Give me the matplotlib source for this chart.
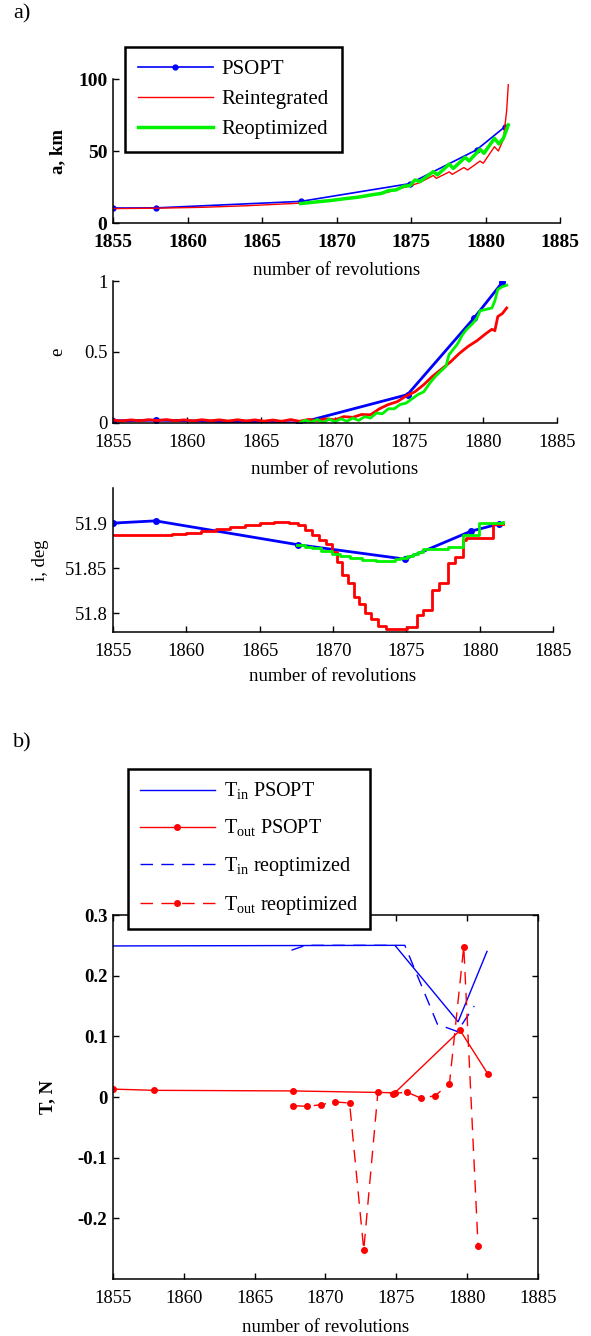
import matplotlib
matplotlib.use('Agg')
import matplotlib.pyplot as plt

plt.rcParams['font.family'] = ['Liberation Serif', 'DejaVu Serif']
plt.rcParams['mathtext.fontset'] = 'custom'
plt.rcParams['mathtext.rm'] = 'Liberation Serif'

# ---------------- datos panel a) ----------------
# semieje mayor, km
psopt_rev = [1855.0, 1857.9, 1867.6, 1874.9, 1879.4, 1881.3]
psopt_a = [10.4, 10.5, 15.0, 27.3, 50.8, 66.8]

reint_a_rev = [1855.0, 1858.0, 1861.0, 1864.0, 1867.6, 1869.0, 1870.5, 1872.0, 1873.5,
               1874.3, 1875.0, 1875.6, 1876.5, 1876.7, 1877.57, 1877.77, 1878.55,
               1878.8, 1879.63, 1879.85, 1880.6, 1880.86, 1881.2, 1881.42, 1881.53]
reint_a = [10.0, 10.3, 10.9, 12.0, 13.8, 15.0, 16.5, 18.8, 21.5,
           24.0, 26.0, 28.1, 33.0, 31.0, 35.5, 33.8, 38.5,
           36.8, 43.0, 41.5, 53.0, 50.0, 58.0, 78.0, 96.0]

reopt_a_rev = [1867.6, 1868.5, 1869.5, 1870.5, 1871.5, 1872.5, 1873.0, 1873.5, 1874.0,
               1874.5, 1874.93, 1875.27, 1875.6, 1876.5, 1876.77, 1877.57, 1877.84,
               1878.63, 1878.9, 1879.63, 1879.9, 1880.6, 1880.9, 1881.2, 1881.53]
reopt_a = [13.5, 14.5, 15.5, 16.8, 18.0, 19.8, 20.5, 22.5, 23.0,
           25.5, 26.0, 29.9, 28.7, 35.7, 33.4, 40.9, 37.9,
           45.6, 43.1, 51.2, 48.4, 58.8, 54.9, 58.8, 68.1]

# excentricidad
psopt_e = [0.015, 0.02, 0.0, 0.2, 0.74, 0.99]

reint_e_rev = [1855.0, 1855.6, 1856.2, 1856.8, 1857.4, 1858.0, 1858.6, 1859.2, 1859.8,
               1860.4, 1861.0, 1861.6, 1862.2, 1862.8, 1863.4, 1864.0, 1864.6, 1865.2,
               1865.8, 1866.4, 1867.0, 1867.6, 1868.2, 1868.8, 1869.4, 1870.0, 1870.6,
               1871.2, 1871.8, 1872.4, 1873.0, 1873.6, 1874.2, 1874.8, 1875.4, 1876.0,
               1876.6, 1877.2, 1877.8, 1878.4, 1879.0, 1879.6, 1880.2, 1880.6, 1880.8,
               1881.0, 1881.3, 1881.6]
reint_e = [0.020, 0.015, 0.022, 0.016, 0.023, 0.017, 0.024, 0.016, 0.022,
           0.015, 0.023, 0.016, 0.022, 0.014, 0.023, 0.015, 0.022, 0.013,
           0.021, 0.012, 0.024, 0.012, 0.025, 0.018, 0.030, 0.022, 0.045,
           0.040, 0.060, 0.058, 0.100, 0.130, 0.150, 0.190, 0.220, 0.270,
           0.330, 0.380, 0.430, 0.490, 0.540, 0.580, 0.630, 0.660, 0.650,
           0.750, 0.770, 0.810]

reopt_e_rev = [1867.6, 1868.0, 1868.4, 1868.8, 1869.2, 1869.6, 1870.0, 1870.4, 1870.8,
               1871.2, 1871.6, 1872.0, 1872.4, 1872.8, 1873.2, 1873.6, 1874.0, 1874.4,
               1874.8, 1875.2, 1875.6, 1876.0, 1876.4, 1876.8, 1877.2, 1877.5, 1877.7,
               1878.0, 1878.3, 1878.6, 1878.9, 1879.3, 1879.6, 1879.8, 1880.2, 1880.6,
               1880.8, 1881.0, 1881.3, 1881.6]
reopt_e = [0.000, 0.020, 0.005, 0.025, 0.002, 0.028, 0.008, 0.030, 0.012,
           0.035, 0.018, 0.045, 0.035, 0.070, 0.065, 0.100, 0.100, 0.130,
           0.140, 0.170, 0.200, 0.220, 0.280, 0.330, 0.370, 0.400, 0.480,
           0.520, 0.560, 0.620, 0.660, 0.700, 0.740, 0.790, 0.800, 0.810,
           0.860, 0.940, 0.960, 0.970]

# inclinacion, deg
psopt_i = [51.900, 51.9025, 51.876, 51.860, 51.891, 51.899]

reint_i_rev = [1855.0, 1856.0, 1857.0, 1858.0, 1859.0, 1860.0, 1861.0, 1862.0, 1863.0,
               1864.0, 1865.0, 1866.0, 1867.0, 1867.6, 1868.1, 1868.6, 1869.05, 1869.5,
               1869.9, 1870.3, 1870.6, 1871.0, 1871.4, 1871.8, 1872.2, 1872.6, 1873.1,
               1873.6, 1875.02, 1875.7, 1876.15, 1876.72, 1877.24, 1877.86, 1878.31,
               1878.88, 1879.1, 1880.88, 1881.56]
reint_i = [51.887, 51.887, 51.887, 51.887, 51.888, 51.889, 51.891, 51.893, 51.896,
           51.898, 51.900, 51.901, 51.900, 51.898, 51.892, 51.887, 51.881, 51.877,
           51.868, 51.857, 51.842, 51.834, 51.818, 51.810, 51.800, 51.794, 51.786,
           51.782, 51.785, 51.798, 51.804, 51.826, 51.833, 51.856, 51.862,
           51.881, 51.884, 51.8985, 51.8985]

reopt_i_rev = [1867.56, 1868.1, 1868.6, 1869.2, 1869.9, 1870.5, 1871.15, 1872.0, 1872.95,
               1873.6, 1874.2, 1874.56, 1875.02, 1875.48, 1875.8, 1876.15, 1877.86,
               1878.88, 1879.95, 1881.6]
reopt_i = [51.876, 51.874, 51.872, 51.869, 51.866, 51.863, 51.861, 51.859, 51.858,
           51.858, 51.860, 51.861, 51.863, 51.866, 51.868, 51.871, 51.874,
           51.8865, 51.9003, 51.901]

# ---------------- datos panel b) ----------------
tin_psopt_rev = [1855.0, 1874.9, 1879.36, 1881.4]
tin_psopt = [0.249, 0.250, 0.124, 0.240]

tout_psopt_rev = [1855.0, 1857.9, 1867.7, 1874.9, 1879.5, 1881.46]
tout_psopt = [0.013, 0.011, 0.010, 0.007, 0.110, 0.038]

tin_reopt_rev = [1867.6, 1868.6, 1874.8, 1875.6, 1877.9, 1879.3, 1880.5]
tin_reopt = [0.242, 0.250, 0.250, 0.250, 0.120, 0.108, 0.150]

tout_reopt_rev = [1867.7, 1868.7, 1869.7, 1870.7, 1871.7, 1872.7, 1873.7, 1874.76,
                  1875.74, 1876.76, 1877.74, 1878.75, 1879.76, 1880.77]
tout_reopt = [-0.0143, -0.0154, -0.0126, -0.0082, -0.0099, -0.252, 0.0082, 0.0055,
              0.0082, -0.0022, 0.0022, 0.022, 0.248, -0.246]

W, H = 591, 1336
fig = plt.figure(figsize=(W / 100, H / 100), dpi=100)

def caja(left, right, top, bottom):
    return [left / W, 1 - bottom / H, (right - left) / W, (bottom - top) / H]

azul, rojo, verde = (0, 0, 1), (1, 0, 0), (0, 0.95, 0)
fs = 13.5

def estilo(ax, box=False, bold=False, size=fs):
    for s in ['top', 'right']:
        ax.spines[s].set_visible(box)
    for s in ax.spines.values():
        s.set_linewidth(1.1)
    ax.tick_params(direction='in', length=4.5, width=1, labelsize=size, pad=4,
                   top=box, right=box)
    ax.tick_params(axis='x', pad=8)
    ax.set_xlim(1855, 1885)
    ax.set_xticks([1855, 1860, 1865, 1870, 1875, 1880, 1885])
    if bold:
        for t in ax.get_xticklabels() + ax.get_yticklabels():
            t.set_fontweight('bold')

# a)
ax1 = fig.add_axes(caja(113, 560, 79, 223))
ax1.plot(psopt_rev, psopt_a, '-', color=azul, lw=1.2, marker='.', ms=7, label='PSOPT')
ax1.plot(reint_a_rev, reint_a, '-', color=rojo, lw=1.0, label='Reintegrated')
ax1.plot(reopt_a_rev, reopt_a, '-', color=verde, lw=2.5, label='Reoptimized')
ax1.set_ylim(0, 100)
ax1.set_yticks([0, 50, 100])
estilo(ax1, bold=True, size=14)
ax1.set_ylabel('a, km', fontsize=fs, fontweight='bold')
ax1.yaxis.set_label_coords(-0.105, 0.5)
ax1.set_xlabel('number of revolutions', fontsize=fs)
ax1.xaxis.set_label_coords(0.5, -0.27)
ax1.legend(loc='upper left', bbox_to_anchor=(125 / W, 1 - 47 / H),
           bbox_transform=fig.transFigure, fontsize=15, numpoints=1,
           handlelength=3.6, handletextpad=0.45, labelspacing=0.5,
           fancybox=False, framealpha=1, edgecolor='black', borderpad=0.6,
           borderaxespad=0).get_frame().set_linewidth(1.8)

ax2 = fig.add_axes(caja(113, 557, 281, 423))
ax2.plot(psopt_rev, psopt_e, '-', color=azul, lw=2, marker='.', ms=8)
ax2.plot(reint_e_rev, reint_e, '-', color=rojo, lw=2)
ax2.plot(reopt_e_rev, reopt_e, '-', color=verde, lw=2)
ax2.set_ylim(0, 1)
ax2.set_yticks([0, 0.5, 1])
ax2.set_yticklabels(['0', '0.5', '1'])
estilo(ax2)
ax2.set_ylabel('e', fontsize=fs)
ax2.yaxis.set_label_coords(-0.106, 0.5)
ax2.set_xlabel('number of revolutions', fontsize=fs)
ax2.xaxis.set_label_coords(0.5, -0.27)

ax3 = fig.add_axes(caja(113, 553, 488, 632))
ax3.plot(psopt_rev, psopt_i, '-', color=azul, lw=2, marker='.', ms=8)
ax3.plot(reint_i_rev, reint_i, color=rojo, lw=2, drawstyle='steps-post')
ax3.plot(reopt_i_rev, reopt_i, color=verde, lw=2, drawstyle='steps-post')
ax3.set_ylim(51.779, 51.939)
ax3.set_yticks([51.8, 51.85, 51.9])
ax3.set_yticklabels(['51.8', '51.85', '51.9'])
estilo(ax3)
ax3.set_ylabel('i, deg', fontsize=fs)
ax3.yaxis.set_label_coords(-0.145, 0.5)
ax3.set_xlabel('number of revolutions', fontsize=fs)
ax3.xaxis.set_label_coords(0.5, -0.25)

# b)
ax4 = fig.add_axes(caja(113, 538, 915, 1279))
ax4.plot(tin_psopt_rev, tin_psopt, '-', color=azul, lw=1.0, label=r'T$_{\mathregular{in}}$ PSOPT')
ax4.plot(tout_psopt_rev, tout_psopt, '-', color=rojo, lw=1.0, marker='.', ms=8,
         label=r'T$_{\mathregular{out}}$ PSOPT')
ax4.plot(tin_reopt_rev, tin_reopt, '--', color=azul, lw=1.0, dashes=(9, 6),
         label=r'T$_{\mathregular{in}}$ reoptimized')
ax4.plot(tout_reopt_rev, tout_reopt, '--', color=rojo, lw=1.0, dashes=(9, 6), marker='.', ms=8,
         label=r'T$_{\mathregular{out}}$ reoptimized')
ax4.set_ylim(-0.3, 0.3)
ax4.set_yticks([-0.2, -0.1, 0, 0.1, 0.2, 0.3])
ax4.set_yticklabels(['-0.2', '-0.1', '0', '0.1', '0.2', '0.3'])
estilo(ax4, box=True)
for t in ax4.get_yticklabels():
    t.set_fontweight('bold')
ax4.set_ylabel('T, N', fontsize=fs, fontweight='bold')
ax4.yaxis.set_label_coords(-0.134, 0.5)
ax4.set_xlabel('number of revolutions', fontsize=fs)
ax4.xaxis.set_label_coords(0.5, -0.11)
ax4.legend(loc='upper left', bbox_to_anchor=(128 / W, 1 - 769 / H),
           bbox_transform=fig.transFigure, fontsize=14.5, numpoints=1,
           handlelength=3.7, handletextpad=0.45, labelspacing=0.78,
           fancybox=False, framealpha=1, edgecolor='black', borderpad=0.6,
           borderaxespad=0).get_frame().set_linewidth(1.8)

fig.text(13 / W, 1 - 4 / H, 'a)', fontsize=16, va='top', ha='left')
fig.text(13 / W, 1 - 733 / H, 'b)', fontsize=16, va='top', ha='left')

fig.savefig('out.png', dpi=100)
